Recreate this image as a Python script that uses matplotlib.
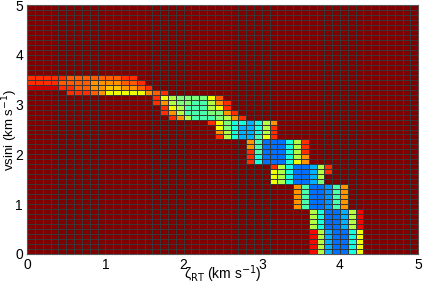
import numpy as np
import matplotlib
matplotlib.use("Agg")
import matplotlib.pyplot as plt

plt.rcParams['font.family'] = ['Liberation Sans', 'DejaVu Sans']

# grid of the map (km/s)
zeta_edges = np.linspace(0, 5, 51)
vsini_edges = np.linspace(0, 5, 51)

# colour codes -> level on the jet scale
code_values = {'.': 1.0, 'd': 0.93, 'r': 0.90, 'R': 0.86, 'o': 0.81,
               'O': 0.75, 'y': 0.70, 'Y': 0.64, 'G': 0.57, 'L': 0.50,
               'A': 0.44, 'C': 0.38, 'S': 0.30, 'b': 0.27, 'B': 0.235}

# (vsini row, first zeta column, cells)
band_rows = [
    (35, 0, "RRRRRoooooooRR"),
    (34, 0, "RRRRooooOOOOooR"),
    (33, 0, "ddddRRooOOyyOOoR"),
    (32, 5, "RRRoOYYYYYOoR"),
    (31, 16, "RYGLLLLYo"),
    (30, 16, "ROGLLAAGOR"),
    (29, 17, "RYGAAAGYR"),
    (28, 17, "ROGAAALLOR"),
    (27, 18, "ROGAAALGOR"),
    (26, 23, "RYLCCSCGO"),
    (25, 24, "YLCSSCGR"),
    (24, 24, "OGCSSCGR"),
    (23, 24, "RGCSSAYR"),
    (22, 28, "OABBBCGR"),
    (21, 28, "OABBBCGR"),
    (20, 28, "RABBBCGR"),
    (19, 28, "RCBBBCGO"),
    (18, 28, "RCBBBCYO"),
    (17, 31, "RGCBBSGR"),
    (16, 31, "YGCBBSGR"),
    (15, 31, "YGCBBSG"),
    (14, 31, "YGCBBSL"),
    (13, 34, "OABBbAO"),
    (12, 34, "OABBbAO"),
    (11, 34, "OABBbAO"),
    (10, 34, "OABBbAO"),
    (9, 34, "OABBbAO"),
    (8, 36, "GCBBSGr"),
    (7, 36, "GCBBSGr"),
    (6, 36, "GCBBSGr"),
    (5, 36, "GCBBSGr"),
    (4, 36, "rGSBBCY"),
    (3, 36, "rGSBBCY"),
    (2, 36, "rGSBBCY"),
    (1, 36, "rGSBBCY"),
    (0, 36, "rGSBBCY"),
]

Z = np.ones((50, 50))
for row, col, cells in band_rows:
    for k, c in enumerate(cells):
        Z[row, col + k] = code_values[c]

fig = plt.figure(figsize=(4.25, 2.84), dpi=100)
ax = fig.add_axes([0.064, 0.106, 0.920, 0.876])
ax.pcolormesh(zeta_edges, vsini_edges, Z, cmap='jet', vmin=0, vmax=1,
              edgecolors='#383838', linewidth=0.7, antialiased=True)
ax.set_xlim(0, 5)
ax.set_ylim(0, 5)
ax.set_xticks(range(6))
ax.set_yticks(range(6))
ax.tick_params(direction='in', length=0, labelsize=10, pad=3)
for s in ax.spines.values():
    s.set_color('#555555')
    s.set_linewidth(0.8)
ax.set_xlabel("ζ$_{\\mathrm{RT}}$ (km s$^{-1}$)", fontsize=10)
ax.set_ylabel("vsini (km s$^{-1}$)", fontsize=9.5)
ax.xaxis.set_label_coords(0.5, -0.038)
ax.yaxis.set_label_coords(-0.043, 0.5)
ax.yaxis.label.set_va('center')

fig.savefig("out.png", dpi=100)
